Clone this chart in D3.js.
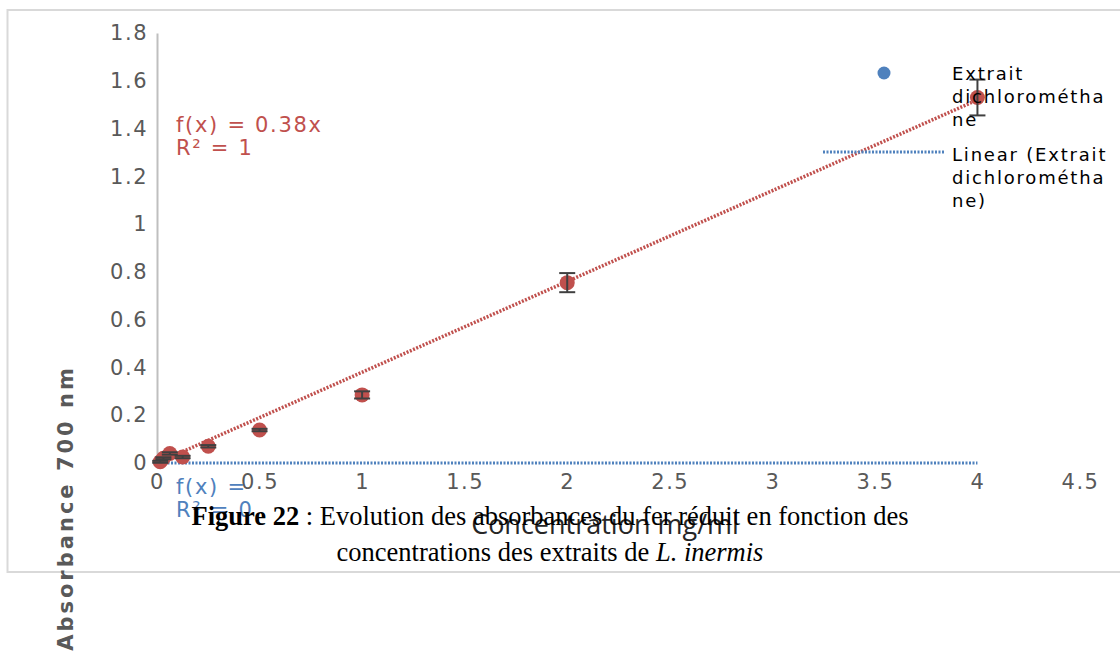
<!DOCTYPE html>
<html>
<head>
<meta charset="utf-8">
<script src="https://cdn.jsdelivr.net/npm/d3@7"></script>
<style>
  body { margin: 0; background: #fff; }
  svg { display: block; }
</style>
</head>
<body>
<div id="chart"></div>
<script>
// Data
var concentrations = [0.0156, 0.03125, 0.0625, 0.125, 0.25, 0.5, 1, 2, 4];
var absorbances = [0.005, 0.02, 0.04, 0.025, 0.07, 0.138, 0.285, 0.755, 1.53];
var errors = [0.004, 0.004, 0.005, 0.005, 0.005, 0.005, 0.015, 0.04, 0.075];
var xTicks = [0, 0.5, 1, 1.5, 2, 2.5, 3, 3.5, 4, 4.5];
var yTicks = [0, 0.2, 0.4, 0.6, 0.8, 1, 1.2, 1.4, 1.6, 1.8];
var slope = 0.38;

var svgWidth = 1120;
var svgHeight = 655;

var margin = { top: 33, right: 40, bottom: 192, left: 157 };
var chartWidth = svgWidth - margin.left - margin.right;
var chartHeight = svgHeight - margin.top - margin.bottom;

var red = "#c0504d";
var blue = "#4f81bd";

var svg = d3.select("#chart")
  .append("svg")
  .attr("width", svgWidth)
  .attr("height", svgHeight);

// chart frame
svg.append("rect")
  .attr("x", 7.5)
  .attr("y", 10)
  .attr("width", 1130)
  .attr("height", 562)
  .attr("fill", "none")
  .attr("stroke", "#d9d9d9")
  .attr("stroke-width", 2);

var chartGroup = svg.append("g")
  .attr("transform", `translate(${margin.left}, ${margin.top})`);

var xScale = d3.scaleLinear().domain([0, 4.5]).range([0, chartWidth]);
var yScale = d3.scaleLinear().domain([0, 1.8]).range([chartHeight, 0]);

// y axis
var leftAxis = d3.axisLeft(yScale).tickValues(yTicks).tickSize(0).tickPadding(9)
  .tickFormat(d => d3.format("")(+d.toFixed(1)));
var yAxis = chartGroup.append("g").call(leftAxis);
yAxis.select(".domain").attr("stroke", "#bfbfbf").attr("stroke-width", 2);
yAxis.selectAll("text")
  .attr("fill", "#595959")
  .style("font-family", "DejaVu Sans")
  .style("font-size", "21px")
  .style("letter-spacing", "1.5px");

// x axis
var bottomAxis = d3.axisBottom(xScale).tickValues(xTicks).tickSize(0).tickPadding(11)
  .tickFormat(d => d3.format("")(+d.toFixed(1)));
var xAxis = chartGroup.append("g")
  .attr("transform", `translate(0, ${chartHeight})`)
  .call(bottomAxis);
xAxis.select(".domain").remove();
xAxis.selectAll("text")
  .attr("fill", "#595959")
  .style("font-family", "DejaVu Sans")
  .style("font-size", "21px")
  .style("letter-spacing", "1.5px");

// blue linear trend (f(x) = 0)
chartGroup.append("line")
  .attr("x1", xScale(0)).attr("x2", xScale(4))
  .attr("y1", yScale(0)).attr("y2", yScale(0))
  .attr("stroke", blue)
  .attr("stroke-width", 3)
  .attr("stroke-dasharray", "2,1.5");

// red linear trend
chartGroup.append("line")
  .attr("x1", xScale(0)).attr("x2", xScale(4))
  .attr("y1", yScale(0)).attr("y2", yScale(slope * 4))
  .attr("stroke", red)
  .attr("stroke-width", 3.5)
  .attr("stroke-dasharray", "2,1.5");

var points = concentrations.map((c, i) => ({ x: c, y: absorbances[i], e: errors[i] }));

// points
chartGroup.selectAll("circle.pt")
  .data(points)
  .enter()
  .append("circle")
  .attr("class", "pt")
  .attr("cx", d => xScale(d.x))
  .attr("cy", d => yScale(d.y))
  .attr("r", 7.5)
  .attr("fill", red);

// error bars
var errG = chartGroup.append("g")
  .attr("stroke", "#404040")
  .attr("stroke-width", 2);
points.forEach(function(d) {
  var cx = xScale(d.x);
  errG.append("line")
    .attr("x1", cx).attr("x2", cx)
    .attr("y1", yScale(d.y - d.e)).attr("y2", yScale(d.y + d.e));
  [d.y - d.e, d.y + d.e].forEach(function(v) {
    errG.append("line")
      .attr("x1", cx - 8).attr("x2", cx + 8)
      .attr("y1", yScale(v)).attr("y2", yScale(v));
  });
});

// trend equations
function equation(lines, y0, colour) {
  var t = chartGroup.append("text")
    .attr("y", y0)
    .attr("fill", colour)
    .style("font-family", "DejaVu Sans")
    .style("font-size", "21px")
    .style("letter-spacing", "1.7px");
  lines.forEach(function(l, i) {
    t.append("tspan").attr("x", 19).attr("dy", i === 0 ? 0 : 23).text(l);
  });
}
equation(["f(x) = 0.38x", "R² = 1"], 99, red);
equation(["f(x) =", "R² = 0"], chartHeight + 31, blue);

// legend
var legend = svg.append("g");
legend.append("circle")
  .attr("cx", 884).attr("cy", 73).attr("r", 6.5)
  .attr("fill", blue);
legend.append("line")
  .attr("x1", 823).attr("x2", 944)
  .attr("y1", 152).attr("y2", 152)
  .attr("stroke", blue)
  .attr("stroke-width", 3)
  .attr("stroke-dasharray", "2,1.5");

function legendText(lines, y0) {
  var t = legend.append("text")
    .attr("y", y0)
    .attr("fill", "#000")
    .style("font-family", "DejaVu Sans")
    .style("font-size", "18px")
    .style("letter-spacing", "1.8px");
  lines.forEach(function(l, i) {
    t.append("tspan").attr("x", 952).attr("dy", i === 0 ? 0 : 23).text(l);
  });
}
legendText(["Extrait", "dichlorométha", "ne"], 80);
legendText(["Linear (Extrait", "dichlorométha", "ne)"], 161);

// axis titles
svg.append("text")
  .attr("x", 605)
  .attr("y", 534)
  .attr("text-anchor", "middle")
  .attr("fill", "#262626")
  .style("font-family", "Open Sans")
  .style("font-size", "27px")
  .text("Concentration mg/ml");

svg.append("text")
  .attr("transform", "translate(73, 508) rotate(-90)")
  .attr("text-anchor", "middle")
  .attr("fill", "#595959")
  .style("font-family", "DejaVu Sans")
  .style("font-weight", "bold")
  .style("font-size", "21px")
  .style("letter-spacing", "3px")
  .text("Absorbance 700 nm");

// figure caption
var cap1 = svg.append("text")
  .attr("x", 550)
  .attr("y", 525)
  .attr("text-anchor", "middle")
  .attr("fill", "#000")
  .style("font-family", "Liberation Serif")
  .style("font-size", "26.5px");
cap1.append("tspan").style("font-weight", "bold").text("Figure 22");
cap1.append("tspan").text(" : Evolution des absorbances du fer réduit en fonction des");

var cap2 = svg.append("text")
  .attr("x", 550)
  .attr("y", 561)
  .attr("text-anchor", "middle")
  .attr("fill", "#000")
  .style("font-family", "Liberation Serif")
  .style("font-size", "26.5px");
cap2.append("tspan").text("concentrations des extraits de ");
cap2.append("tspan").style("font-style", "italic").text("L. inermis");
</script>
</body>
</html>
